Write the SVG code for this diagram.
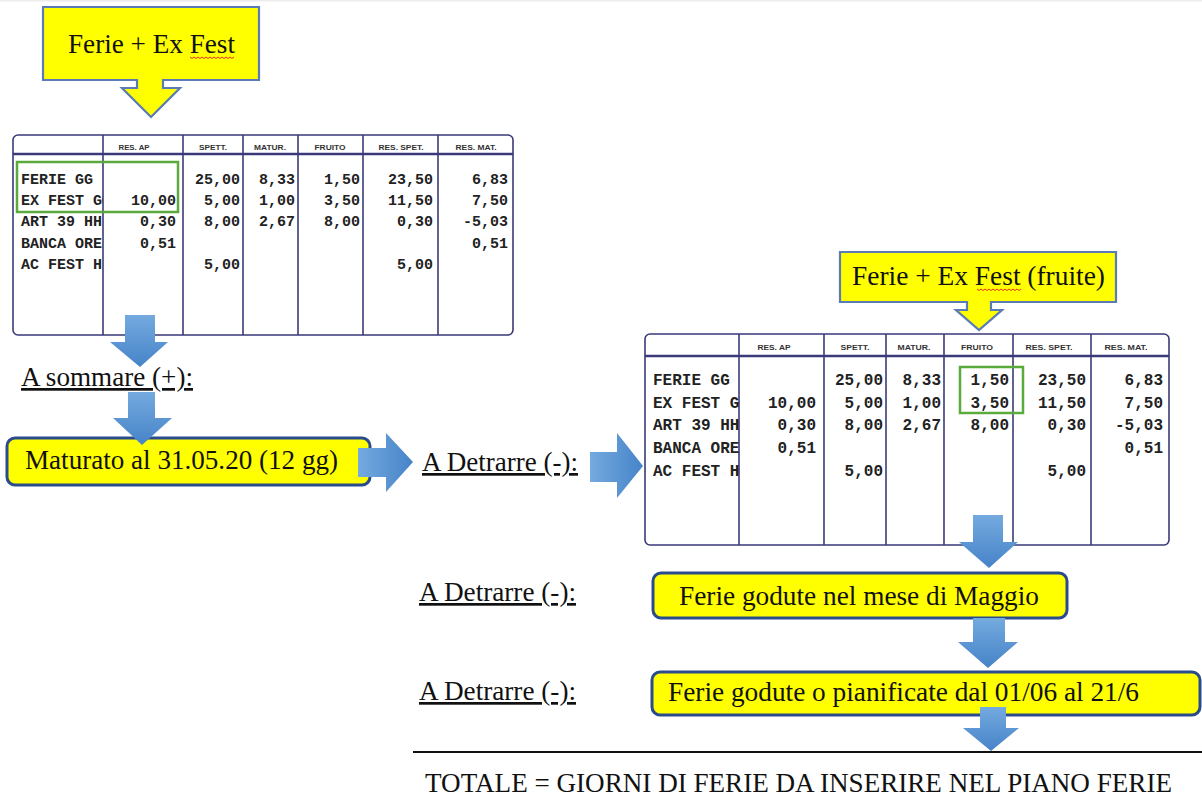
<svg xmlns="http://www.w3.org/2000/svg" width="1202" height="799" viewBox="0 0 1202 799">
<style>
.serif{font-family:"Liberation Serif","Times New Roman",serif;font-size:27px;fill:#111}
.ul{text-decoration:underline}
.ybox{fill:#ffff00;stroke:#2b4c8c;stroke-width:3}
.callout{fill:#ffff00;stroke:#5a7bb5;stroke-width:2.2;stroke-linejoin:miter}
.tbl{fill:#fff;stroke:#3a3a7a;stroke-width:1.6}
.tl{stroke:#3a3a7a;stroke-width:1.6}
.th{stroke:#3a3a7a;stroke-width:2.4}
.hd{font-family:"Liberation Sans",Arial,sans-serif;font-size:7px;font-weight:bold;fill:#333;text-anchor:middle}
.m1{font-family:"Liberation Mono","Courier New",monospace;font-size:15px;font-weight:bold;fill:#222}
.m2{font-family:"Liberation Mono","Courier New",monospace;font-size:16px;font-weight:bold;fill:#222}
.r{text-anchor:end}
.green{fill:none;stroke:#5aaa3c;stroke-width:2.5}
.squig{fill:none;stroke:#e03030;stroke-width:1}
.down{fill:url(#gDown)}
.right{fill:url(#gRight)}
</style>
<defs>
<linearGradient id="gDown" x1="0" y1="0" x2="0" y2="1">
<stop offset="0" stop-color="#74aadf"/>
<stop offset="1" stop-color="#4683c8"/>
</linearGradient>
<linearGradient id="gRight" x1="0" y1="0" x2="1" y2="0">
<stop offset="0" stop-color="#74aadf"/>
<stop offset="1" stop-color="#4683c8"/>
</linearGradient>
<clipPath id="clipL"><rect x="13" y="155" width="90" height="180"/></clipPath>
<clipPath id="clipR"><rect x="645" y="357" width="94" height="188"/></clipPath>
</defs>
<rect x="0" y="0" width="1202" height="799" fill="#ffffff"/>
<rect x="0" y="0" width="1202" height="1.5" fill="#ececec"/>

<g id="callout-left">
<path class="callout" d="M43,7 H259 V80 H163 V88 H180 L151,117 L122,88 H137 V80 H43 Z"/>
<text class="serif" x="68" y="53" textLength="167" lengthAdjust="spacingAndGlyphs">Ferie + Ex Fest</text>
<polyline class="squig" points="190,57 192,58.5 194,57 196,58.5 198,57 200,58.5 202,57 204,58.5 206,57 208,58.5 210,57 212,58.5 214,57 216,58.5 218,57 220,58.5 222,57 224,58.5 226,57 228,58.5 230,57 232,58.5 234,57"/>
</g>

<g id="table-left">
<rect class="tbl" x="13" y="135" width="500" height="200" rx="5"/>
<line class="th" x1="13" y1="154" x2="513" y2="154"/>
<line class="tl" x1="103" y1="135" x2="103" y2="335"/>
<line class="tl" x1="183" y1="135" x2="183" y2="335"/>
<line class="tl" x1="243" y1="135" x2="243" y2="335"/>
<line class="tl" x1="298" y1="135" x2="298" y2="335"/>
<line class="tl" x1="363" y1="135" x2="363" y2="335"/>
<line class="tl" x1="438" y1="135" x2="438" y2="335"/>
<text class="hd" x="134" y="149.5" textLength="31" lengthAdjust="spacingAndGlyphs">RES. AP</text>
<text class="hd" x="213" y="149.5" textLength="28" lengthAdjust="spacingAndGlyphs">SPETT.</text>
<text class="hd" x="270" y="149.5" textLength="32" lengthAdjust="spacingAndGlyphs">MATUR.</text>
<text class="hd" x="330" y="149.5" textLength="31" lengthAdjust="spacingAndGlyphs">FRUITO</text>
<text class="hd" x="401" y="149.5" textLength="45" lengthAdjust="spacingAndGlyphs">RES. SPET.</text>
<text class="hd" x="476" y="149.5" textLength="41" lengthAdjust="spacingAndGlyphs">RES. MAT.</text>
<g clip-path="url(#clipL)">
<text class="m1" x="21" y="184">FERIE GG</text>
<text class="m1" x="21" y="205">EX FEST GG</text>
<text class="m1" x="21" y="226">ART 39 HH</text>
<text class="m1" x="21" y="248">BANCA ORE</text>
<text class="m1" x="21" y="269">AC FEST H</text>
</g>
<text class="m1 r" x="240" y="184">25,00</text>
<text class="m1 r" x="295" y="184">8,33</text>
<text class="m1 r" x="360" y="184">1,50</text>
<text class="m1 r" x="433" y="184">23,50</text>
<text class="m1 r" x="508" y="184">6,83</text>
<text class="m1 r" x="176" y="205">10,00</text>
<text class="m1 r" x="240" y="205">5,00</text>
<text class="m1 r" x="295" y="205">1,00</text>
<text class="m1 r" x="360" y="205">3,50</text>
<text class="m1 r" x="433" y="205">11,50</text>
<text class="m1 r" x="508" y="205">7,50</text>
<text class="m1 r" x="176" y="226">0,30</text>
<text class="m1 r" x="240" y="226">8,00</text>
<text class="m1 r" x="295" y="226">2,67</text>
<text class="m1 r" x="360" y="226">8,00</text>
<text class="m1 r" x="433" y="226">0,30</text>
<text class="m1 r" x="508" y="226">-5,03</text>
<text class="m1 r" x="176" y="248">0,51</text>
<text class="m1 r" x="508" y="248">0,51</text>
<text class="m1 r" x="240" y="269">5,00</text>
<text class="m1 r" x="433" y="269">5,00</text>
<rect class="green" x="17" y="162" width="161" height="50"/>
</g>

<g id="label-sommare">
<text class="serif ul" x="21" y="386" textLength="172" lengthAdjust="spacingAndGlyphs">A sommare (+):</text>
</g>

<g id="box-maturato">
<rect class="ybox" x="7" y="438" width="363" height="47" rx="8"/>
<text class="serif" x="25" y="469" textLength="313" lengthAdjust="spacingAndGlyphs">Maturato al 31.05.20 (12 gg)</text>
</g>

<g id="label-detrarre-1">
<text class="serif ul" x="422" y="471" textLength="156" lengthAdjust="spacingAndGlyphs">A Detrarre (-):</text>
</g>

<g id="callout-right">
<path class="callout" d="M840,252 H1116 V302 H991 V310 H1002 L979,330 L956,310 H967 V302 H840 Z"/>
<text class="serif" x="852" y="285" textLength="253" lengthAdjust="spacingAndGlyphs">Ferie + Ex Fest (fruite)</text>
<polyline class="squig" points="977,289 979,290.5 981,289 983,290.5 985,289 987,290.5 989,289 991,290.5 993,289 995,290.5 997,289 999,290.5 1001,289 1003,290.5 1005,289 1007,290.5 1009,289 1011,290.5 1013,289 1015,290.5 1017,289 1019,290.5 1021,289"/>
</g>

<g id="table-right">
<rect class="tbl" x="645" y="334" width="524" height="211" rx="5"/>
<line class="th" x1="645" y1="356" x2="1169" y2="356"/>
<line class="tl" x1="739" y1="334" x2="739" y2="545"/>
<line class="tl" x1="824" y1="334" x2="824" y2="545"/>
<line class="tl" x1="886" y1="334" x2="886" y2="545"/>
<line class="tl" x1="944" y1="334" x2="944" y2="545"/>
<line class="tl" x1="1013" y1="334" x2="1013" y2="545"/>
<line class="tl" x1="1091" y1="334" x2="1091" y2="545"/>
<text class="hd" x="774" y="349.5" textLength="33" lengthAdjust="spacingAndGlyphs">RES. AP</text>
<text class="hd" x="855" y="349.5" textLength="29" lengthAdjust="spacingAndGlyphs">SPETT.</text>
<text class="hd" x="914" y="349.5" textLength="33" lengthAdjust="spacingAndGlyphs">MATUR.</text>
<text class="hd" x="977" y="349.5" textLength="32" lengthAdjust="spacingAndGlyphs">FRUITO</text>
<text class="hd" x="1049" y="349.5" textLength="47" lengthAdjust="spacingAndGlyphs">RES. SPET.</text>
<text class="hd" x="1126" y="349.5" textLength="43" lengthAdjust="spacingAndGlyphs">RES. MAT.</text>
<g clip-path="url(#clipR)">
<text class="m2" x="653" y="385">FERIE GG</text>
<text class="m2" x="653" y="408">EX FEST GG</text>
<text class="m2" x="653" y="430">ART 39 HH</text>
<text class="m2" x="653" y="453">BANCA ORE</text>
<text class="m2" x="653" y="476">AC FEST H</text>
</g>
<text class="m2 r" x="883" y="385">25,00</text>
<text class="m2 r" x="941" y="385">8,33</text>
<text class="m2 r" x="1009" y="385">1,50</text>
<text class="m2 r" x="1086" y="385">23,50</text>
<text class="m2 r" x="1163" y="385">6,83</text>
<text class="m2 r" x="816" y="408">10,00</text>
<text class="m2 r" x="883" y="408">5,00</text>
<text class="m2 r" x="941" y="408">1,00</text>
<text class="m2 r" x="1009" y="408">3,50</text>
<text class="m2 r" x="1086" y="408">11,50</text>
<text class="m2 r" x="1163" y="408">7,50</text>
<text class="m2 r" x="816" y="430">0,30</text>
<text class="m2 r" x="883" y="430">8,00</text>
<text class="m2 r" x="941" y="430">2,67</text>
<text class="m2 r" x="1009" y="430">8,00</text>
<text class="m2 r" x="1086" y="430">0,30</text>
<text class="m2 r" x="1163" y="430">-5,03</text>
<text class="m2 r" x="816" y="453">0,51</text>
<text class="m2 r" x="1163" y="453">0,51</text>
<text class="m2 r" x="883" y="476">5,00</text>
<text class="m2 r" x="1086" y="476">5,00</text>
<rect class="green" x="960" y="367" width="63" height="46"/>
</g>

<g id="label-detrarre-2">
<text class="serif ul" x="419" y="601" textLength="157" lengthAdjust="spacingAndGlyphs">A Detrarre (-):</text>
</g>
<g id="box-maggio">
<rect class="ybox" x="653" y="573" width="414" height="45" rx="8"/>
<text class="serif" x="679" y="605" textLength="360" lengthAdjust="spacingAndGlyphs">Ferie godute nel mese di Maggio</text>
</g>

<g id="label-detrarre-3">
<text class="serif ul" x="419" y="700" textLength="157" lengthAdjust="spacingAndGlyphs">A Detrarre (-):</text>
</g>
<g id="box-pianificate">
<rect class="ybox" x="652" y="672" width="548" height="43" rx="8"/>
<text class="serif" x="668" y="701" textLength="471" lengthAdjust="spacingAndGlyphs">Ferie godute o pianificate dal 01/06 al 21/6</text>
</g>

<g id="totale">
<line x1="413" y1="752" x2="1202" y2="752" stroke="#111" stroke-width="2"/>
<text class="serif" x="425" y="792" textLength="747" lengthAdjust="spacingAndGlyphs">TOTALE = GIORNI DI FERIE DA INSERIRE NEL PIANO FERIE</text>
</g>

<g id="connectors">
<path class="down" d="M125,315 H155 V342 H168 L140,367 L110,342 H125 Z"/>
<path class="down" d="M128,392 H155 V418 H172 L142,445 L113,418 H128 Z"/>
<path class="right" d="M358,448 H386 V433 L413,462 L386,492 V477 H358 Z"/>
<path class="right" d="M590,452 H617 V433 L643,466 L617,498 V482 H590 Z"/>
<path class="down" d="M973,515 H1003 V542 H1018 L989,568 L959,542 H973 Z"/>
<path class="down" d="M973,618 H1005 V642 H1018 L988,668 L958,642 H973 Z"/>
<path class="down" d="M980,707 H1006 V728 H1019 L991,751 L963,728 H980 Z"/>
</g>
</svg>
